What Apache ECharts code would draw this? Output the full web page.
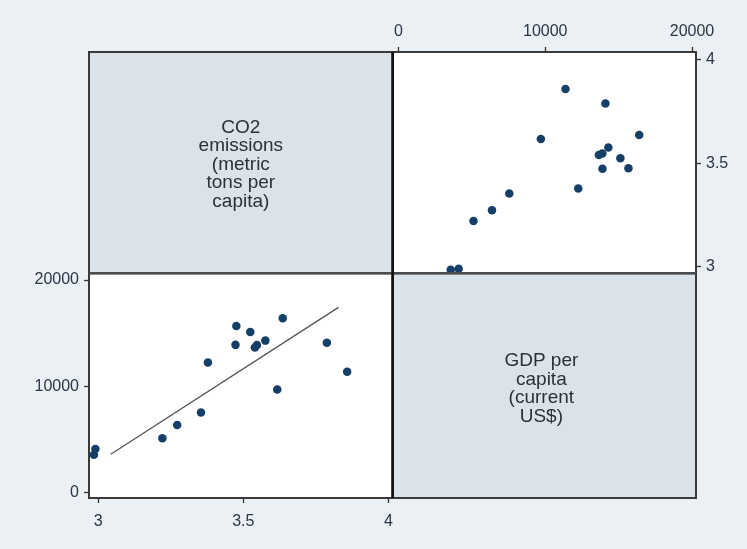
<!DOCTYPE html>
<html>
<head>
<meta charset="utf-8">
<script src="https://cdn.jsdelivr.net/npm/echarts@6/dist/echarts.min.js"></script>
<style>html,body{margin:0;padding:0;background:#eaf0f3;}#c{width:747px;height:549px;}</style>
</head>
<body>
<div id="c"></div>
<script>
// ---- data ----
const co2 = [2.985, 2.99, 3.221, 3.272, 3.354, 3.617, 3.858, 3.378, 3.788, 3.54, 3.547, 3.576, 3.473, 3.524, 3.476, 3.636];
const gdp = [3560, 4100, 5110, 6370, 7550, 9700, 11380, 12250, 14100, 13650, 13890, 14300, 13900, 15120, 15670, 16400];
const fitCo2 = [3.043, 3.828];
const fitGdp = [3610, 17430];
const co2Ticks = [3, 3.5, 4];
const gdpTicks = [0, 10000, 20000];
const co2Label = "CO2\nemissions\n(metric\ntons per\ncapita)";
const gdpLabel = "GDP per\ncapita\n(current\nUS$)";

// ---- layout ----
const L = 89, M = 392.7, R = 696, T = 52, H = 273.3, B = 498;
const font = "Liberation Sans, Arial, sans-serif";
const txt = '#2f3446';
const fillDiag = '#d9e3e9';
const border = '#3a3a3a';

const chart = echarts.init(document.getElementById('c'), null, {renderer: 'canvas'});

function grid(x0, y0, x1, y1, bg) {
  return {left: x0, top: y0, width: x1 - x0, height: y1 - y0, show: true,
    backgroundColor: bg, borderColor: border, borderWidth: 2, containLabel: false};
}
const hidden = (gi) => ({gridIndex: gi, type: 'value', show: false, min: 0, max: 1});
function axis(gi, pos, min, max, ticks, margin) {
  return {
    gridIndex: gi, type: 'value', position: pos, min: min, max: max,
    axisLine: {show: false, onZero: false},
    splitLine: {show: false},
    axisTick: {show: true, inside: false, length: 5, customValues: ticks, lineStyle: {color: '#333', width: 1.3}},
    axisLabel: {show: true, customValues: ticks, color: txt, fontFamily: font, fontSize: 16,
      margin: margin, hideOverlap: false, showMinLabel: true, showMaxLabel: true,
      formatter: (v) => String(v)}
  };
}

const option = {
  backgroundColor: '#eaf0f3',
  animation: false,
  grid: [
    grid(L, T, M, H, fillDiag),  // 0 top-left diag
    grid(M, T, R, H, '#ffffff'), // 1 top-right
    grid(L, H, M, B, '#ffffff'), // 2 bottom-left
    grid(M, H, R, B, fillDiag)   // 3 bottom-right diag
  ],
  xAxis: [
    hidden(0),
    axis(1, 'top', -395, 20272, gdpTicks, 12),
    axis(2, 'bottom', 2.968, 4.015, co2Ticks, 16),
    hidden(3)
  ],
  yAxis: [
    hidden(0),
    axis(1, 'right', 2.968, 4.037, co2Ticks, 10),
    axis(2, 'left', -498, 20630, gdpTicks, 10),
    hidden(3)
  ],
  series: [
    {type: 'scatter', xAxisIndex: 1, yAxisIndex: 1, symbol: 'circle', symbolSize: 8.5,
      itemStyle: {color: '#163f68', opacity: 1}, data: gdp.map((g, i) => [g, co2[i]])},
    {type: 'scatter', xAxisIndex: 2, yAxisIndex: 2, symbol: 'circle', symbolSize: 8.5,
      itemStyle: {color: '#163f68', opacity: 1}, data: co2.map((c, i) => [c, gdp[i]])},
    {type: 'line', xAxisIndex: 2, yAxisIndex: 2, showSymbol: false, symbol: 'none',
      lineStyle: {color: '#555', width: 1.3}, data: fitCo2.map((c, i) => [c, fitGdp[i]])}
  ],
  graphic: [
    {type: 'line', z: 100, shape: {x1: M, y1: T, x2: M, y2: B}, style: {stroke: '#111', lineWidth: 2.6}},
    {type: 'line', z: 99, shape: {x1: L, y1: H, x2: R, y2: H}, style: {stroke: '#4a4d50', lineWidth: 2.4}},
    {type: 'text', x: (L + M) / 2, y: (T + H) / 2 + 2,
      style: {text: co2Label, fill: '#2f2f38', font: '19px ' + font, lineHeight: 18.5,
        align: 'center', verticalAlign: 'middle'}},
    {type: 'text', x: (M + R) / 2 - 3, y: (H + B) / 2 + 3,
      style: {text: gdpLabel, fill: '#2f2f38', font: '19px ' + font, lineHeight: 18.5,
        align: 'center', verticalAlign: 'middle'}}
  ]
};
chart.setOption(option);
</script>
</body>
</html>
